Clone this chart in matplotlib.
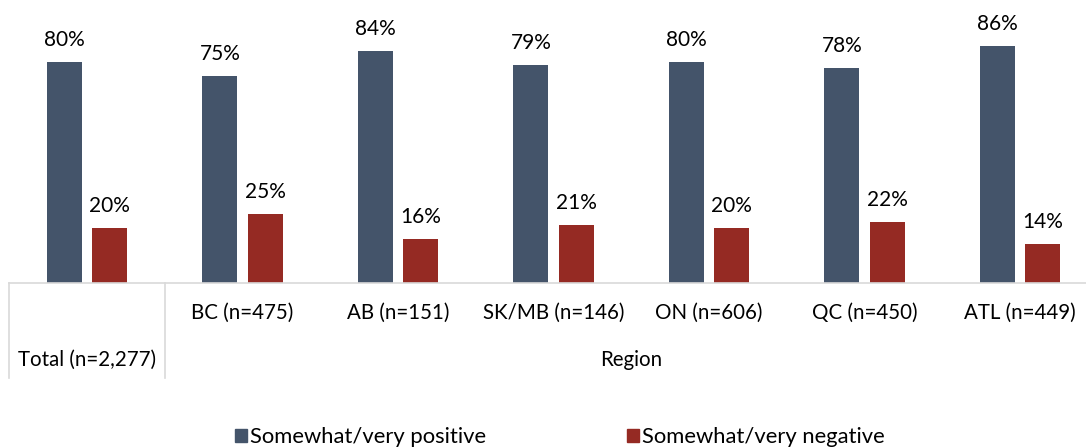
import matplotlib.pyplot as plt
import numpy as np
from matplotlib.patches import Patch

categories = ["Total (n=2,277)", "BC (n=475)", "AB (n=151)", "SK/MB (n=146)",
              "ON (n=606)", "QC (n=450)", "ATL (n=449)"]
positive = [80, 75, 84, 79, 80, 78, 86]
negative = [20, 25, 16, 21, 20, 22, 14]
series_names = ["Somewhat/very positive", "Somewhat/very negative"]
group_label = "Region"

BLUE = "#44546A"
RED = "#952A23"
GRID = "#D9D9D9"

plt.rcParams["font.family"] = ["Lato", "DejaVu Sans"]

W, H = 1086, 448
fig = plt.figure(figsize=(W / 100, H / 100), dpi=100)
# axes spans 7 categories; right edge falls slightly outside the canvas
left_px, right_px, base_px, top_px = 9.25, 1097.75, 283, 7
ax = fig.add_axes([left_px / W, (H - base_px) / H,
                   (right_px - left_px) / W, (base_px - top_px) / H])

x = np.arange(len(categories))
bw = 0.225
off = 0.145
ax.bar(x - off, positive, bw, color=BLUE)
ax.bar(x + off, negative, bw, color=RED)

for xi, p, n in zip(x, positive, negative):
    ax.annotate(f"{p}%", (xi - off, p), xytext=(0, 12), textcoords="offset pixels",
                ha="center", va="bottom", fontsize=15)
    ax.annotate(f"{n}%", (xi + off, n), xytext=(0, 12), textcoords="offset pixels",
                ha="center", va="bottom", fontsize=15)

ax.set_xlim(-0.5, len(categories) - 0.5)
ax.set_ylim(0, 100)
for s in ax.spines.values():
    s.set_visible(False)
ax.set_xticks([])
ax.set_yticks([])

# category axis drawn by hand below the baseline
lc = dict(color=GRID, lw=1.2, clip_on=False)
ax.plot([-0.5, len(categories) - 0.5], [0, 0], **lc)
tr = ax.get_xaxis_transform()
scale = base_px - top_px
ax.plot([-0.5, -0.5], [0, -95 / scale], transform=tr, **lc)
ax.plot([0.5, 0.5], [0, -95 / scale], transform=tr, **lc)

for xi, lab in zip(x[1:], categories[1:]):
    ax.text(xi, -30 / scale, lab, transform=tr, ha="center", va="center", fontsize=14.8)
ax.text(x[0], -77 / scale, categories[0], transform=tr, ha="center", va="center", fontsize=14.8)
ax.text((631 - left_px) / 155.5 - 0.5, -77 / scale, group_label, transform=tr,
        ha="center", va="center", fontsize=14.8)

handles = [Patch(color=BLUE), Patch(color=RED)]
fig.legend(handles, series_names, loc="center", bbox_to_anchor=(560 / W, 1 - 437 / H),
           ncol=2, frameon=False, fontsize=15.8, handlelength=0.55, handleheight=0.55,
           handletextpad=0.15, columnspacing=6.4)

fig.savefig("out.png", dpi=100)
